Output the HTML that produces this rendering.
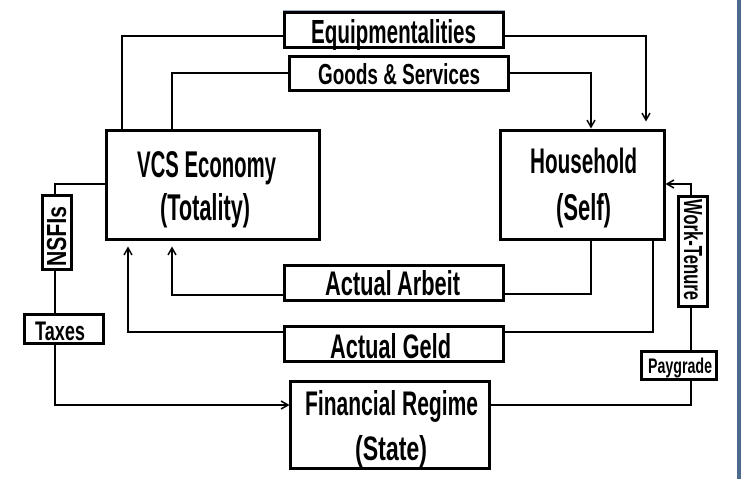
<!DOCTYPE html>
<html><head><meta charset="utf-8"><style>
html,body{margin:0;padding:0;background:#fff;}
svg{display:block;}
text{font-family:"Liberation Sans Narrow","Liberation Sans",sans-serif;font-weight:bold;fill:#000;}
</style></head><body>
<svg width="741" height="479" viewBox="0 0 741 479" xmlns="http://www.w3.org/2000/svg">
<defs>
<marker id="a" markerWidth="10" markerHeight="10" refX="8" refY="5" orient="auto" markerUnits="userSpaceOnUse">
<path d="M1,1 L8,5 L1,9" fill="none" stroke="#000" stroke-width="1.6"/>
</marker>
</defs>
<rect x="737" y="0" width="4" height="479" fill="#4a6a8e"/>
<line x1="283" y1="11" x2="505" y2="11" stroke="#3a5a8a" stroke-width="1"/>
<g fill="none" stroke="#000" stroke-width="2">
<polyline points="283,36 122,36 122,129"/>
<polyline points="288,73 172,73 172,129"/>
<polyline points="505,36 646,36 646,120" marker-end="url(#a)"/>
<polyline points="510,73 591,73 591,127" marker-end="url(#a)"/>
<polyline points="105,184 55,184 55,194"/>
<polyline points="55,270 55,313"/>
<polyline points="55,344 55,405 288,405" marker-end="url(#a)"/>
<polyline points="505,294 591,294 591,240"/>
<polyline points="283,295 172,295 172,248" marker-end="url(#a)"/>
<polyline points="505,332 653,332 653,240"/>
<polyline points="283,332 128,332 128,248" marker-end="url(#a)"/>
<polyline points="691,195 691,184 667,184" marker-end="url(#a)"/>
<polyline points="691,307 691,350"/>
<polyline points="691,380 691,405 491,405"/>
</g>
<g fill="#fff" stroke="#000" stroke-width="3">
<rect x="284.5" y="12.5" width="219" height="35"/>
<rect x="289.5" y="56.5" width="219" height="34"/>
<rect x="106.5" y="130.5" width="213" height="109"/>
<rect x="500.5" y="130.5" width="164" height="109"/>
<rect x="42.5" y="195.5" width="29" height="74"/>
<rect x="24.5" y="314.5" width="79" height="29"/>
<rect x="284.5" y="265.5" width="219" height="35"/>
<rect x="284.5" y="326.5" width="219" height="35"/>
<rect x="290.5" y="381.5" width="199" height="87"/>
<rect x="678.5" y="196.5" width="29" height="110"/>
<rect x="641.5" y="351.5" width="75" height="28"/>
</g>
<text x="311" y="43" font-size="33" textLength="165" lengthAdjust="spacingAndGlyphs">Equipmentalities</text>
<text x="318" y="84" font-size="29" textLength="162" lengthAdjust="spacingAndGlyphs">Goods &amp; Services</text>
<text x="137" y="177" font-size="37" textLength="139" lengthAdjust="spacingAndGlyphs">VCS Economy</text>
<text x="160" y="220" font-size="37" textLength="90" lengthAdjust="spacingAndGlyphs">(Totality)</text>
<text x="530" y="173" font-size="35" textLength="107" lengthAdjust="spacingAndGlyphs">Household</text>
<text x="556" y="220" font-size="37" textLength="55" lengthAdjust="spacingAndGlyphs">(Self)</text>
<text x="325" y="295" font-size="34" textLength="135" lengthAdjust="spacingAndGlyphs">Actual Arbeit</text>
<text x="330" y="358" font-size="34" textLength="121" lengthAdjust="spacingAndGlyphs">Actual Geld</text>
<text x="305" y="415" font-size="34" textLength="173" lengthAdjust="spacingAndGlyphs">Financial Regime</text>
<text x="355" y="460" font-size="34" textLength="72" lengthAdjust="spacingAndGlyphs">(State)</text>
<text x="35" y="340" font-size="27" textLength="50" lengthAdjust="spacingAndGlyphs">Taxes</text>
<text x="648" y="373" font-size="21" textLength="64" lengthAdjust="spacingAndGlyphs">Paygrade</text>
<text transform="translate(66,266) rotate(-90)" font-size="28" textLength="60" lengthAdjust="spacingAndGlyphs">NSFIs</text>
<text transform="translate(684,199) rotate(90)" font-size="26" textLength="101" lengthAdjust="spacingAndGlyphs">Work-Tenure</text>
</svg>
</body></html>
